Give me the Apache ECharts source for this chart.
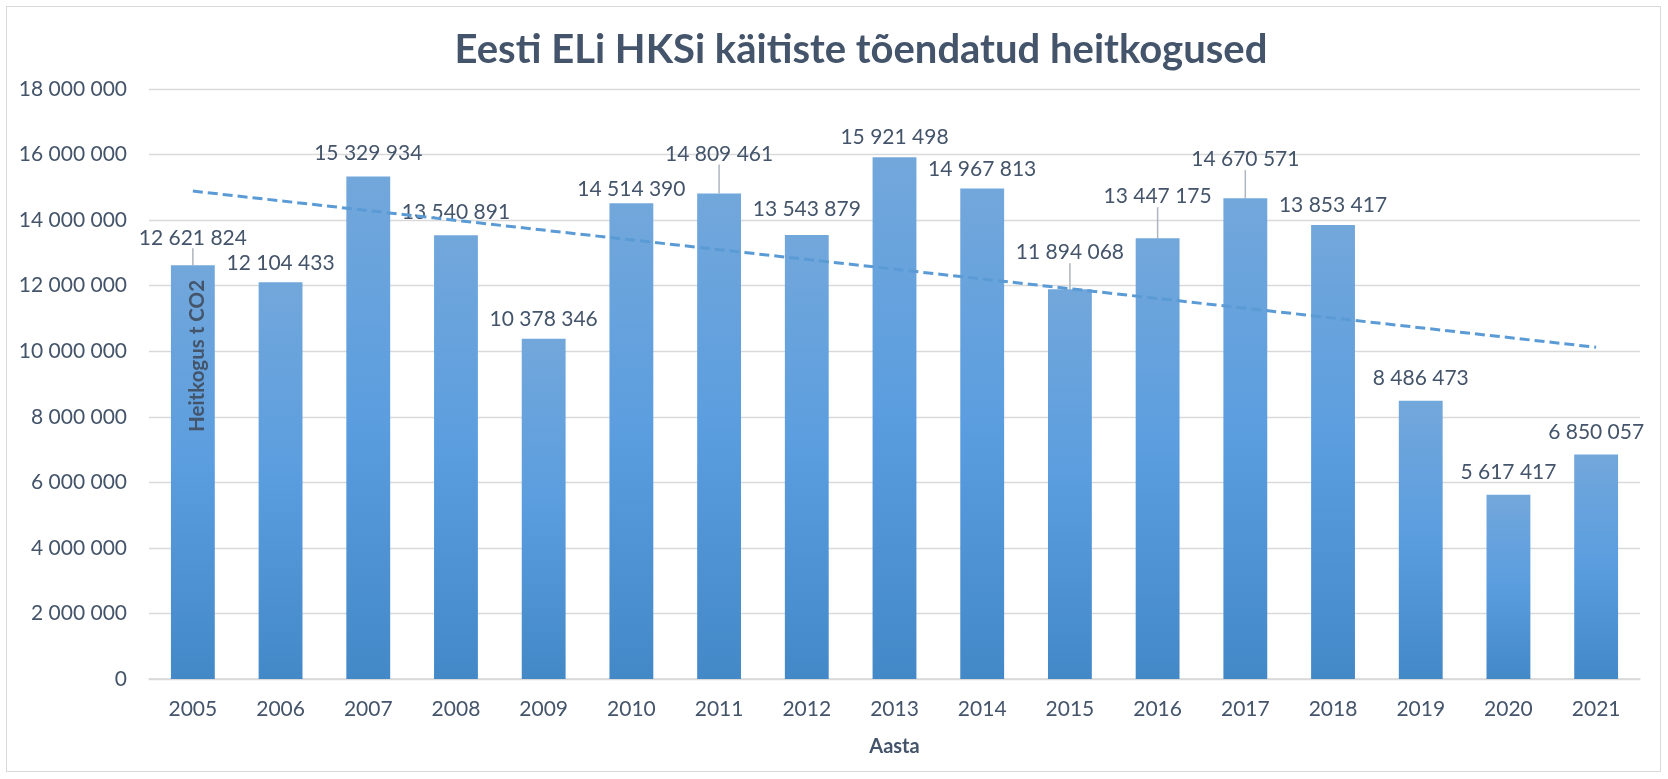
<!DOCTYPE html>
<html>
<head>
<meta charset="utf-8">
<title>Eesti ELi HKSi käitiste tõendatud heitkogused</title>
<script src="https://cdn.jsdelivr.net/npm/echarts@6/dist/echarts.min.js"></script>
<style>
  html, body { margin: 0; padding: 0; background: #fff; }
  #wrap { position: relative; width: 1668px; height: 779px; }
  #chart { position: absolute; left: 0; top: 0; width: 1668px; height: 779px; }
  #frame { position: absolute; left: 6px; top: 6px; width: 1653px; height: 764px;
           border: 1.5px solid #D9D9D9; pointer-events: none; }
</style>
</head>
<body>
<div id="wrap">
  <div id="chart"></div>
  <div id="frame"></div>
</div>
<script>
var years = ['2005', '2006', '2007', '2008', '2009', '2010', '2011', '2012', '2013',
             '2014', '2015', '2016', '2017', '2018', '2019', '2020', '2021'];
var emissions = [12621824, 12104433, 15329934, 13540891, 10378346, 14514390, 14809461,
                 13543879, 15921498, 14967813, 11894068, 13447175, 14670571, 13853417,
                 8486473, 5617417, 6850057];
// linear trendline, start (2005) and end (2021)
var trendEnds = [14886000, 10120000];
var yTicks = { min: 0, max: 18000000, step: 2000000 };

// labels that Excel moved up (with leader line), extra px
var labelNudge = { 0: -8, 2: -4, 3: -3, 5: 5, 6: -20, 7: -6, 10: -17, 11: -22, 12: -19,
                   14: -3, 15: -3, 16: -3 };
var withLeader = [0, 6, 10, 11, 12];

var ink = '#44546A';
var font = 'Lato';

function spaced(v) {
  return String(v).replace(/\B(?=(\d{3})+(?!\d))/g, ' ');
}

var barData = emissions.map(function(v, i) {
  var item = { value: v };
  if (withLeader.indexOf(i) >= 0) {
    item.labelLine = { show: true };
  }
  return item;
});

var chart = echarts.init(document.getElementById('chart'), null, { renderer: 'canvas' });

chart.setOption({
  animation: false,
  title: {
    text: 'Eesti ELi HKSi käitiste tõendatud heitkogused',
    left: 856,
    top: 25,
    textAlign: 'center',
    textStyle: { color: ink, fontFamily: font, fontWeight: 'bold', fontSize: 40 }
  },
  grid: { left: 149, right: 28, top: 89, bottom: 100 },
  xAxis: {
    type: 'category',
    data: years,
    name: 'Aasta',
    nameLocation: 'middle',
    nameGap: 58,
    nameTextStyle: { color: ink, fontFamily: font, fontWeight: 'bold', fontSize: 20 },
    axisLine: { lineStyle: { color: '#D9D9D9', width: 1.5 } },
    axisTick: { show: false },
    axisLabel: { color: ink, fontFamily: font, fontSize: 21, margin: 20 }
  },
  yAxis: [{
    type: 'value',
    min: yTicks.min,
    max: yTicks.max,
    interval: yTicks.step,
    axisLine: { show: false },
    axisTick: { show: false },
    splitLine: { lineStyle: { color: '#D9D9D9', width: 1.3 } },
    axisLabel: { color: ink, fontFamily: font, fontSize: 21, margin: 22, formatter: spaced }
  }, {
    // overlay axis only for the title, so it sits above the bars
    type: 'value',
    min: yTicks.min,
    max: yTicks.max,
    interval: yTicks.step,
    position: 'left',
    z: 10,
    axisLine: { show: false },
    axisTick: { show: false },
    axisLabel: { show: false },
    splitLine: { show: false },
    name: 'Heitkogus t CO2',
    nameLocation: 'middle',
    nameGap: -59,
    nameTextStyle: { color: ink, fontFamily: font, fontWeight: 'bold', fontSize: 20.5,
                     padding: [0, 0, 0, 56] }
  }],
  series: [{
    type: 'bar',
    data: barData,
    barCategoryGap: '50%',
    itemStyle: {
      color: new echarts.graphic.LinearGradient(0, 0, 0, 1, [
        { offset: 0, color: '#72A7DB' },
        { offset: 0.5, color: '#5A9DDF' },
        { offset: 1, color: '#4388C7' }
      ])
    },
    label: {
      show: true,
      position: 'top',
      distance: 9,
      color: ink,
      fontFamily: font,
      fontSize: 21,
      formatter: function(p) { return spaced(p.value); }
    },
    labelLine: { show: false, lineStyle: { color: '#ADB5BF', width: 1.5 } },
    labelLayout: function(p) {
      var d = labelNudge[p.dataIndex];
      return d ? { dy: d } : {};
    }
  }, {
    type: 'line',
    data: [[years[0], trendEnds[0]], [years[years.length - 1], trendEnds[1]]],
    symbol: 'none',
    silent: true,
    z: 3,
    lineStyle: { color: '#5B9BD5', width: 3, type: [10, 5] }
  }]
});
</script>
</body>
</html>
